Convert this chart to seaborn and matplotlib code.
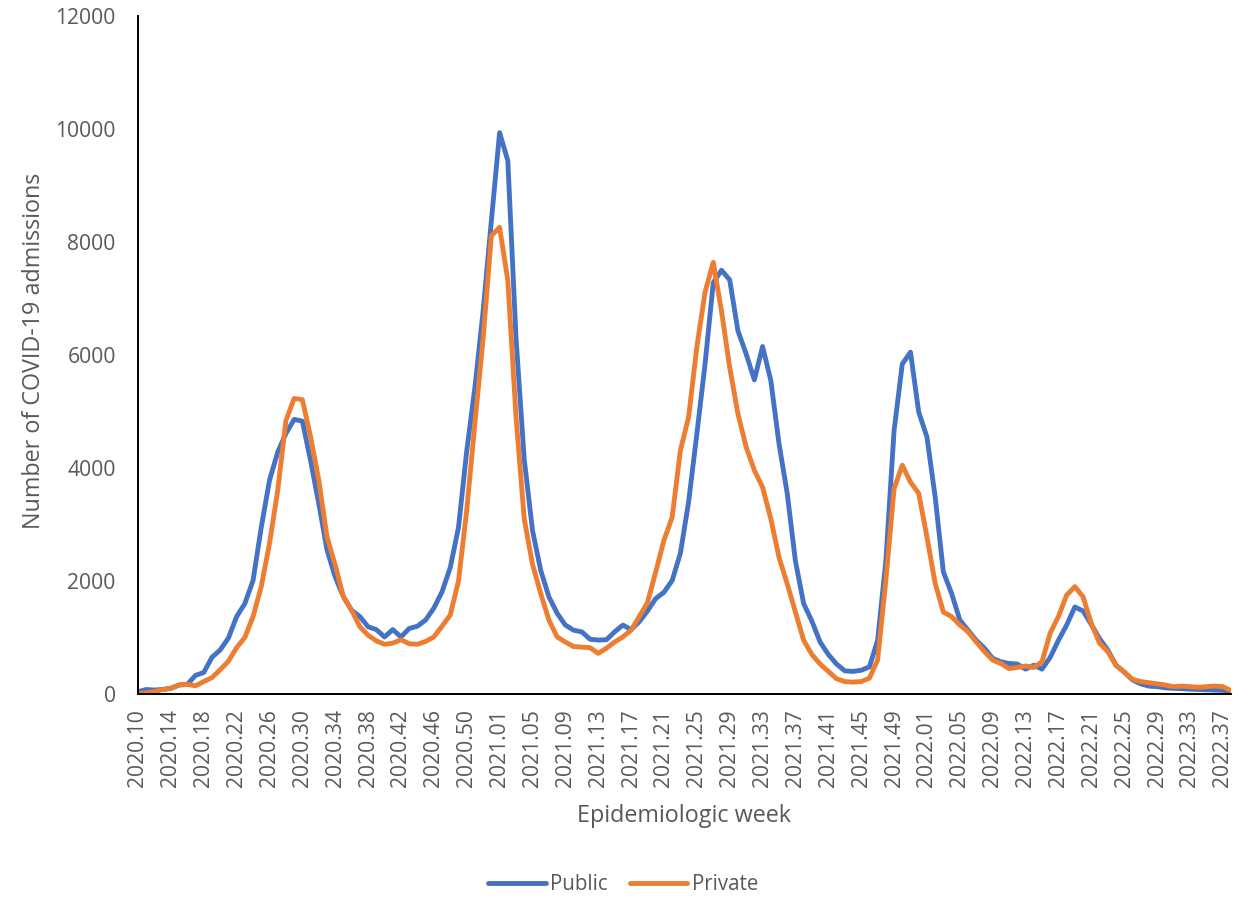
import matplotlib
matplotlib.use("Agg")
import matplotlib.pyplot as plt
import seaborn as sns
import pandas as pd

# ---------------- data ----------------
years = [2020, 2021, 2022]
first_week = [10, 1, 1]
last_week = [53, 52, 38]

public = [
    40, 80, 70, 80, 100, 160, 170, 330, 380, 650,
    780, 990, 1370, 1600, 2010, 2950, 3780, 4280, 4610, 4860,
    4830, 4130, 3370, 2550, 2070, 1720, 1480, 1370, 1190, 1140,
    1010, 1140, 1010, 1160, 1200, 1310, 1520, 1810, 2240, 2950,
    4300, 5430, 6780, 8380, 9935, 9440, 6300, 4150, 2900, 2190,
    1720, 1430, 1220, 1130, 1100, 970, 955, 960, 1100, 1220,
    1140, 1280, 1470, 1690, 1800, 2010, 2490, 3400, 4600, 5840,
    7280, 7500, 7330, 6430, 6020, 5560, 6150, 5550, 4430, 3550,
    2350, 1600, 1290, 920, 700, 530, 410, 400, 420, 480,
    950, 2350, 4660, 5840, 6050, 4990, 4550, 3490, 2160, 1780,
    1310, 1130, 950, 810, 630, 570, 540, 530, 440, 510,
    440, 650, 950, 1220, 1540, 1470, 1230, 980, 780, 510,
    390, 250, 180, 140, 130, 110, 100, 95, 85, 80,
    75, 70, 65, 45,
]

private = [
    10, 20, 40, 80, 100, 160, 170, 145, 220, 290,
    430, 580, 820, 1000, 1370, 1900, 2660, 3600, 4840, 5230,
    5210, 4550, 3780, 2780, 2280, 1720, 1480, 1190, 1040, 940,
    880, 900, 960, 890, 880, 930, 1010, 1200, 1400, 2000,
    3250, 4800, 6300, 8110, 8260, 7320, 4900, 3100, 2300, 1780,
    1310, 1010, 920, 840, 830, 820, 720, 810, 920, 1010,
    1130, 1370, 1620, 2160, 2720, 3130, 4310, 4900, 6140, 7110,
    7640, 6780, 5780, 4960, 4370, 3960, 3660, 3100, 2420, 1950,
    1450, 950, 700, 530, 400, 270, 220, 210, 220, 280,
    600, 2010, 3630, 4050, 3750, 3550, 2780, 1960, 1450, 1370,
    1220, 1100, 920, 750, 600, 540, 450, 470, 495, 470,
    570, 1080, 1370, 1750, 1900, 1720, 1250, 900, 750, 510,
    390, 260, 220, 200, 180, 160, 130, 140, 130, 120,
    130, 140, 130, 60,
]

series_names = ["Public", "Private"]
series_colors = ["#4472C4", "#ED7D31"]
y_ticks = [0, 2000, 4000, 6000, 8000, 10000, 12000]

weeks = []
for yr, w0, w1 in zip(years, first_week, last_week):
    for w in range(w0, w1 + 1):
        weeks.append(f"{yr}.{w:02d}")

n = len(weeks)
df = pd.DataFrame({
    "idx": list(range(n)) * 2,
    "value": public + private,
    "Sector": [series_names[0]] * n + [series_names[1]] * n,
})

# ---------------- style ----------------
sns.set_theme(style="white")
plt.rcParams["font.family"] = ["Open Sans", "DejaVu Sans"]
text_col = "#595959"

W, H = 1241, 899
fig = plt.figure(figsize=(W / 100, H / 100), dpi=100)
ax_left, ax_right, ax_top, ax_bottom = 138, 1231, 16, 694
ax = fig.add_axes([ax_left / W, 1 - ax_bottom / H,
                   (ax_right - ax_left) / W, (ax_bottom - ax_top) / H])

sns.lineplot(data=df, x="idx", y="value", hue="Sector",
             hue_order=series_names, palette=series_colors,
             linewidth=3.5, ax=ax, legend=False, sort=False)
for ln in ax.get_lines():
    ln.set_solid_joinstyle("round")
    ln.set_solid_capstyle("round")

ax.set_xlim(0, n - 1)
ax.set_ylim(0, 12000)
ax.set_yticks(y_ticks)
ax.set_yticklabels([str(v) for v in y_ticks])
tick_pos = list(range(0, n, 4))
ax.set_xticks(tick_pos)
ax.set_xticklabels([weeks[i] for i in tick_pos], rotation=90)

ax.tick_params(axis="x", length=0, pad=11, labelsize=15.2, labelcolor=text_col)
ax.tick_params(axis="y", length=0, pad=16, labelsize=15.2, labelcolor=text_col)

for side in ["top", "right"]:
    ax.spines[side].set_visible(False)
for side in ["left", "bottom"]:
    ax.spines[side].set_color("black")
    ax.spines[side].set_linewidth(1.4)

ax.set_xlabel("Epidemiologic week", fontsize=16.8, color=text_col, va="center")
ax.set_ylabel("Number of COVID-19 admissions", fontsize=16.8, color=text_col, va="center")
ax.xaxis.set_label_coords(0.5, -(816 - ax_bottom) / (ax_bottom - ax_top))
ax.yaxis.set_label_coords((34 - ax_left) / (ax_right - ax_left), (ax_bottom - 351) / (ax_bottom - ax_top))

handles = ax.get_lines()[:2]
leg = fig.legend(handles, series_names, loc="center", bbox_to_anchor=(623 / W, 1 - 885 / H),
                 ncol=2, frameon=False, fontsize=14.8, handlelength=2.8,
                 handletextpad=0.2, columnspacing=1.1)
for t in leg.get_texts():
    t.set_color(text_col)

fig.savefig("out.png", dpi=100)
